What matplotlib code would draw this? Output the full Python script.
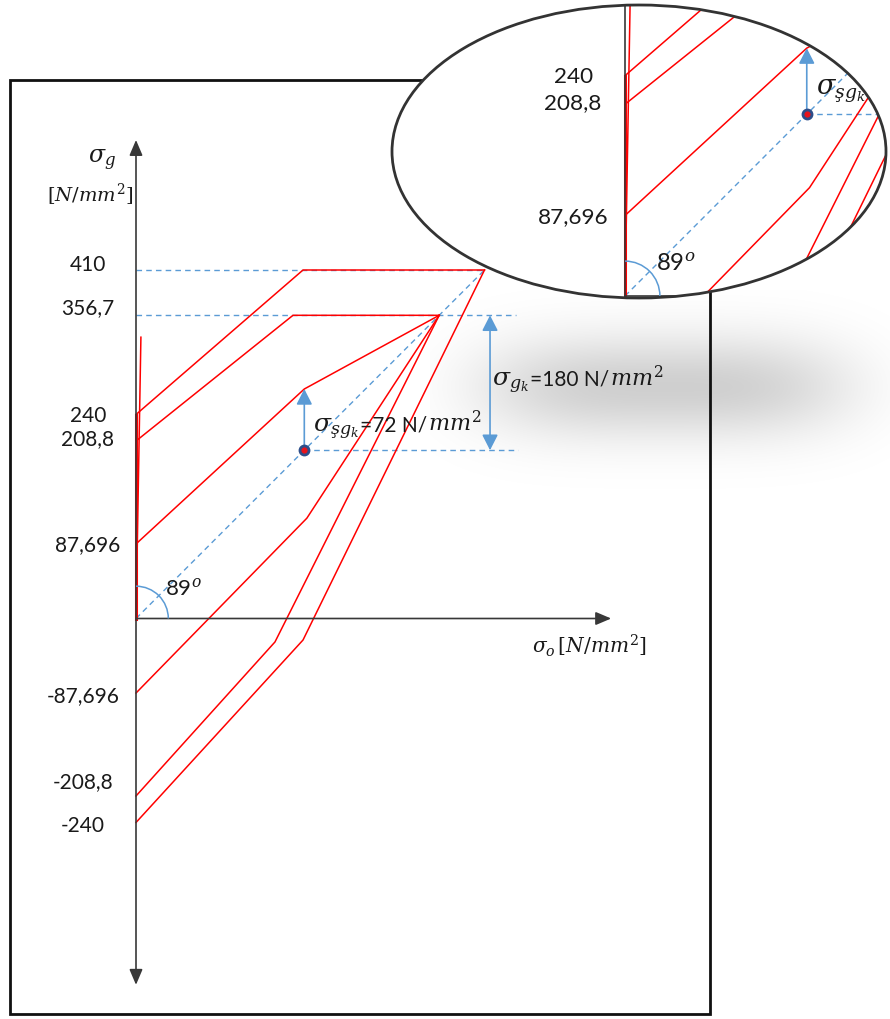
import numpy as np
import matplotlib.pyplot as plt
from matplotlib.patches import Ellipse, Arc, Rectangle, FancyArrowPatch

plt.rcParams['mathtext.fontset'] = 'dejavuserif'
plt.rcParams['font.family'] = ['Lato', 'DejaVu Sans']

# valori del diagramma [N/mm^2]
tick_values = [410, 356.7, 240, 208.8, 87.696, -87.696, -208.8, -240]
tick_labels = ['410', '356,7', '240', '208,8', '87,696', '-87,696', '-208,8', '-240']
apex_hi = 410
apex_lo = 356.7
sigma_m = 198      # tensione media del punto segnato
sigma_sgk = 72
angle = 89
yield_len = 331

# spezzate rosse (sigma_o, sigma_g)
outer_up_x = [0, 196.5, apex_hi]
outer_up_y = [240, apex_hi, apex_hi]
inner_up_x = [0, 184.7, apex_lo]
inner_up_y = [208.8, apex_lo, apex_lo]
fat_up_x = [0, sigma_m, apex_lo]
fat_up_y = [87.696, sigma_m + sigma_sgk, apex_lo]
fat_dn_x = [0, 201, apex_lo]
fat_dn_y = [-87.696, 118, apex_lo]
inner_dn_x = [0, 163.5, apex_lo]
inner_dn_y = [-208.8, -27.6, apex_lo]
outer_dn_x = [0, 196.5, apex_hi]
outer_dn_y = [-240, -25.3, apex_hi]

# impaginazione (pixel dell'immagine)
W, H = 890, 1019
ORIG, S = (136, 618.5), 0.85
INS_BOX = (392, 5, 886, 298)
INS_ORIG, INS_S = (625, 296), 0.918

RED = '#ff0000'
BLUE = '#5b9bd5'
DASH = (0, (4, 3))
TC = '#1a1a1a'


def px(x, y):
    return (x - ORIG[0]) / S, (ORIG[1] - y) / S


#
# Scrive piu' pezzi di testo uno di seguito all'altro sulla stessa linea base
# #
def chain_text(ax, x, y, pieces, k):
    r = ax.figure.canvas.get_renderer()
    for s, fs in pieces:
        t = ax.text(x, y, s, va='baseline', fontsize=fs * k, color=TC, zorder=7)
        bb = t.get_window_extent(r)
        x = ax.transData.inverted().transform((bb.x1 + 1, 0))[0]


#
# Disegna il diagramma completo sugli assi dati (k = scala dei font)
# #
def draw_diagram(ax, k=1.0):
    # linee guida tratteggiate
    ax.plot([0, apex_hi], [apex_hi, apex_hi], color=BLUE, lw=1, ls=DASH, zorder=2)
    ax.plot([0, 447], [apex_lo, apex_lo], color=BLUE, lw=1, ls=DASH, zorder=2)
    ax.plot([sigma_m, 449], [sigma_m, sigma_m], color=BLUE, lw=1, ls=DASH, zorder=2)
    ax.plot([0, apex_hi], [0, apex_hi], color=BLUE, lw=1, ls=DASH, zorder=2)

    # spezzate rosse
    for xs, ys in [(outer_up_x, outer_up_y), (inner_up_x, inner_up_y),
                   (fat_up_x, fat_up_y), (fat_dn_x, fat_dn_y),
                   (inner_dn_x, inner_dn_y), (outer_dn_x, outer_dn_y)]:
        ax.plot(xs, ys, color=RED, lw=1.1, zorder=3)
    t = np.radians(angle)
    ax.plot([0, yield_len * np.cos(t)], [0, yield_len * np.sin(t)], color=RED, lw=1.1, zorder=3)
    ax.plot([0, 0], [0, 240], color=RED, lw=2.2, zorder=3)

    # assi
    ax.add_patch(FancyArrowPatch((0, -431), (0, 563),
                                 arrowstyle='<|-|>,head_length=0.47,head_width=0.2',
                                 mutation_scale=20, color='#383838', lw=1.2,
                                 shrinkA=0, shrinkB=0, zorder=4))
    ax.add_patch(FancyArrowPatch((0, 0), (559, 0),
                                 arrowstyle='-|>,head_length=0.47,head_width=0.2',
                                 mutation_scale=20, color='#383838', lw=1.2,
                                 shrinkA=0, shrinkB=0, zorder=4))

    # arco dell'angolo
    ax.add_patch(Arc((0, 0), 76, 76, theta1=0, theta2=90, color=BLUE, lw=1.1, zorder=4))

    # frecce blu
    ax.add_patch(FancyArrowPatch((416.5, sigma_m), (416.5, apex_lo),
                                 arrowstyle='<|-|>,head_length=0.47,head_width=0.24',
                                 mutation_scale=20, color=BLUE, lw=1.2,
                                 shrinkA=0, shrinkB=0, zorder=5))
    ax.add_patch(FancyArrowPatch((sigma_m, sigma_m), (sigma_m, sigma_m + sigma_sgk),
                                 arrowstyle='-|>,head_length=0.47,head_width=0.24',
                                 mutation_scale=20, color=BLUE, lw=1.2,
                                 shrinkA=0, shrinkB=0, zorder=5))
    ax.plot(sigma_m, sigma_m, 'o', ms=6.5, mfc='#e8141c', mec='#2d4e8a', mew=2, zorder=6)

    # testi
    base_y = [408.8, 357.9, 231.5, 204, 79.4, -97.9, -199.8, -250.8]
    for v, lab, by in zip(tick_values, tick_labels, base_y):
        lx = -56.5 if v > 0 else -62.4
        ax.text(lx, by, lab, ha='center', va='baseline', fontsize=15 * k, color=TC, zorder=7)

    ax.text(*px(88, 163), r'$\sigma_g$', va='baseline', fontsize=17 * k, color=TC, zorder=7)
    ax.text(*px(47, 201.7), r'$[N/mm^2]$', va='baseline', fontsize=14 * k, color=TC, zorder=7)
    ax.text(*px(532, 653), r'$\sigma_o\,[N/mm^2]$', va='baseline', fontsize=14.5 * k,
            color=TC, zorder=7)
    ax.text(*px(165, 595), '89$^o$', va='baseline', fontsize=16 * k, color=TC, zorder=7)

    chain_text(ax, *px(491.7, 386),
               [(r'$\sigma_{g_k}$', 18), ('=180 N/', 15), (r'$mm^2$', 16)], k)
    chain_text(ax, *px(313.3, 431.7),
               [(r'$\sigma_{şg_k}$', 18), ('=72 N/', 15), (r'$mm^2$', 16)], k)


fig = plt.figure(figsize=(W / 100, H / 100), dpi=100)
fig.patch.set_facecolor('white')

ax = fig.add_axes([0, 0, 1, 1])
ax.axis('off')
ax.set_xlim(px(0, 0)[0], px(W, 0)[0])
ax.set_ylim(px(0, H)[1], px(0, 0)[1])

# ombra sfumata sotto l'ellisse
gx = np.linspace(430, 900, 300)
gy = np.linspace(290, 490, 150)
X, Y = np.meshgrid(gx, gy)
alpha = 0.19 * np.exp(-np.abs((X - 665) / 185) ** 3.5) * np.exp(-((Y - 387) / 52) ** 2)
rgba = np.zeros(X.shape + (4,))
rgba[..., 3] = alpha
x0, y0 = px(430, 290)
x1, y1 = px(900, 490)
ax.imshow(rgba, extent=[x0, x1, y1, y0], origin='upper', aspect='auto',
          interpolation='bilinear', zorder=0)

draw_diagram(ax)

# cornice
ax.add_patch(Rectangle((10 / W, 1 - 1014 / H), 700 / W, 934 / H, transform=fig.transFigure,
                       fill=False, ec='#111111', lw=2, zorder=1))

# ingrandimento nell'ellisse
bx0, by0, bx1, by1 = INS_BOX
ins = fig.add_axes([bx0 / W, 1 - by1 / H, (bx1 - bx0) / W, (by1 - by0) / H], zorder=5)
ins.axis('off')
ins.set_xlim((bx0 - INS_ORIG[0]) / INS_S, (bx1 - INS_ORIG[0]) / INS_S)
ins.set_ylim((INS_ORIG[1] - by1) / INS_S, (INS_ORIG[1] - by0) / INS_S)
clip = Ellipse((0.5, 0.5), 1, 1, transform=ins.transAxes, fc='white', ec='none', zorder=0)
ins.add_patch(clip)
draw_diagram(ins, 1.08)

# tolgo i testi che cadono fuori dall'ellisse
to_axes = ins.transData + ins.transAxes.inverted()
for txt in list(ins.texts):
    u, v = to_axes.transform(txt.get_position())
    if ((u - 0.5) / 0.5) ** 2 + ((v - 0.5) / 0.5) ** 2 > 0.9:
        txt.remove()

for art in ins.get_children():
    if art is clip:
        continue
    if hasattr(art, 'set_clip_path') and art not in ins.spines.values():
        art.set_clip_on(True)
        art.set_clip_path(clip)
ins.add_patch(Ellipse((0.5, 0.5), 1, 1, transform=ins.transAxes, fill=False,
                      ec='#333333', lw=2, zorder=10, clip_on=False))

fig.savefig('out.png', dpi=100)
